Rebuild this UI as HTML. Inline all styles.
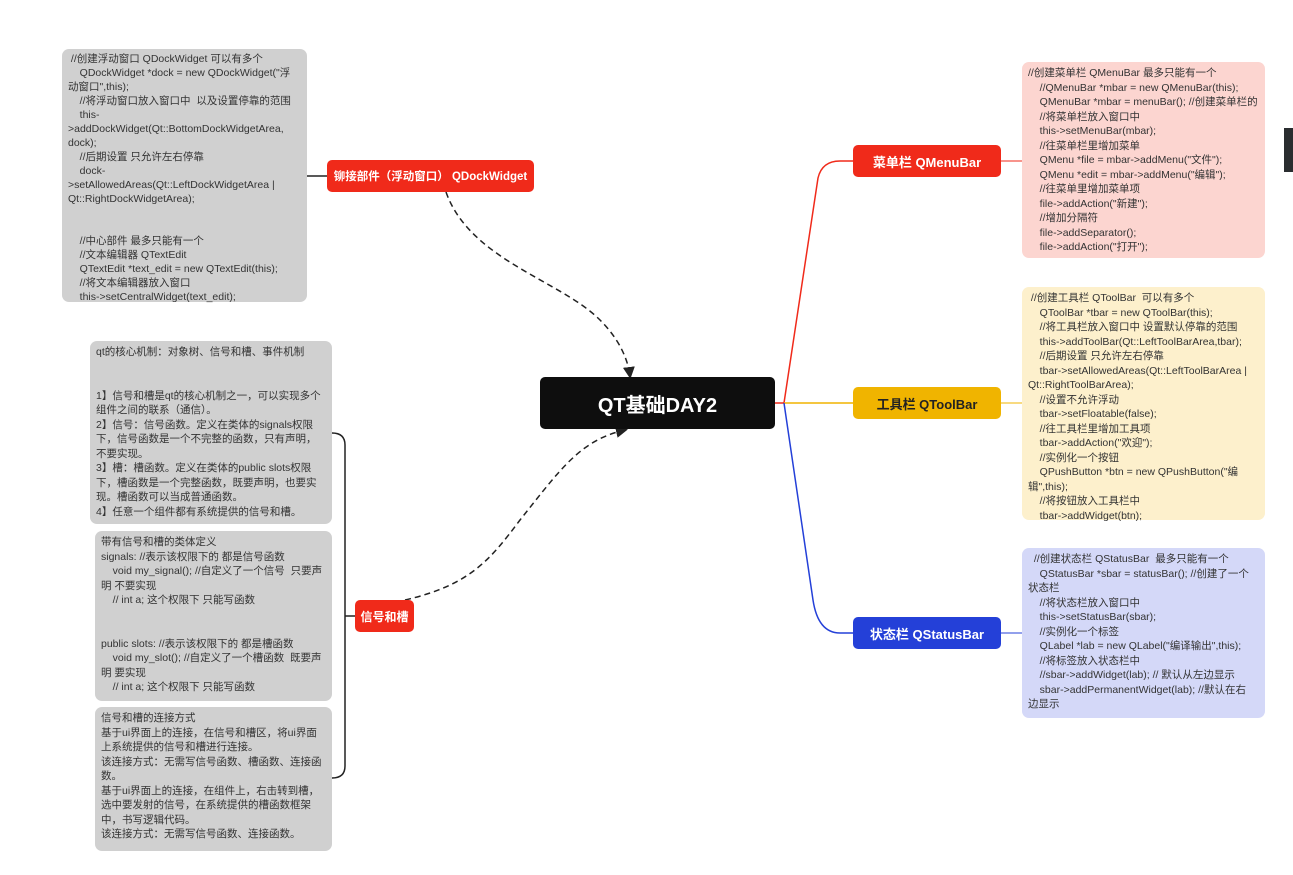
<!DOCTYPE html>
<html><head><meta charset="utf-8"><style>
body{margin:0;width:1293px;height:875px;background:#fff;position:relative;overflow:hidden;font-family:"Liberation Sans","Noto Sans CJK SC",sans-serif;}
.b{position:absolute;border-radius:7px;font-size:10.5px;line-height:14.5px;color:#333;white-space:pre;padding:4px 0 0 6px;box-sizing:border-box;}
.g{background:#d0d0d0;}
.n{position:absolute;border-radius:5px;color:#fff;font-weight:bold;display:flex;align-items:center;justify-content:center;font-size:13px;}
</style></head><body>
<svg width="1293" height="875" style="position:absolute;left:0;top:0">
<defs><marker id="a" markerWidth="8" markerHeight="8" refX="6" refY="4" orient="auto"><path d="M0,0 L8,4 L0,8 Z" fill="#222"/></marker></defs>
<path d="M446,192 C470,260 560,280 600,320 C620,340 628,360 630,376" fill="none" stroke="#222" stroke-width="1.5" stroke-dasharray="6,4" marker-end="url(#a)"/>
<path d="M405,600 C470,585 490,560 520,520 C560,470 580,440 625,430" fill="none" stroke="#222" stroke-width="1.5" stroke-dasharray="6,4" marker-end="url(#a)"/>
<path d="M307,176 L327,176" stroke="#222" stroke-width="1.5"/>
<path d="M332,433 Q345,433 345,445 L345,766 Q345,778 332,778 M345,616 L355,616" fill="none" stroke="#222" stroke-width="1.5"/>
<path d="M774,403 L784,403 L818,178 Q822,161 840,161 L853,161" fill="none" stroke="#f02a1a" stroke-width="1.5"/>
<path d="M784,403 L853,403" stroke="#f0b400" stroke-width="1.5"/>
<path d="M784,403 L813,600 Q818,633 840,633 L853,633" fill="none" stroke="#2440d8" stroke-width="1.5"/>
<path d="M1001,161 L1022,161" stroke="#f02a1a" stroke-width="1"/>
<path d="M1001,403 L1022,403" stroke="#f0b400" stroke-width="1"/>
<path d="M1001,633 L1022,633" stroke="#2440d8" stroke-width="1"/>
</svg>
<div class="b g" style="left:62px;top:49px;width:245px;height:253px;padding-top:3px;line-height:14px;"> //创建浮动窗口 QDockWidget 可以有多个
    QDockWidget *dock = new QDockWidget("浮
动窗口",this);
    //将浮动窗口放入窗口中  以及设置停靠的范围
    this-
>addDockWidget(Qt::BottomDockWidgetArea,
dock);
    //后期设置 只允许左右停靠
    dock-
>setAllowedAreas(Qt::LeftDockWidgetArea |
Qt::RightDockWidgetArea);


    //中心部件 最多只能有一个
    //文本编辑器 QTextEdit
    QTextEdit *text_edit = new QTextEdit(this);
    //将文本编辑器放入窗口
    this->setCentralWidget(text_edit);</div>
<div class="n" style="left:327px;top:160px;width:207px;height:32px;background:#f02a1a;font-size:11.5px;">铆接部件（浮动窗口） QDockWidget</div>
<div class="b g" style="left:90px;top:341px;width:242px;height:183px;">qt的核心机制：对象树、信号和槽、事件机制


1】信号和槽是qt的核心机制之一，可以实现多个
组件之间的联系（通信）。
2】信号：信号函数。定义在类体的signals权限
下，信号函数是一个不完整的函数，只有声明，
不要实现。
3】槽：槽函数。定义在类体的public slots权限
下，槽函数是一个完整函数，既要声明，也要实
现。槽函数可以当成普通函数。
4】任意一个组件都有系统提供的信号和槽。</div>
<div class="b g" style="left:95px;top:531px;width:237px;height:170px;">带有信号和槽的类体定义
signals: //表示该权限下的 都是信号函数
    void my_signal(); //自定义了一个信号  只要声
明 不要实现
    // int a; 这个权限下 只能写函数


public slots: //表示该权限下的 都是槽函数
    void my_slot(); //自定义了一个槽函数  既要声
明 要实现
    // int a; 这个权限下 只能写函数</div>
<div class="b g" style="left:95px;top:707px;width:237px;height:144px;">信号和槽的连接方式
基于ui界面上的连接，在信号和槽区，将ui界面
上系统提供的信号和槽进行连接。
该连接方式：无需写信号函数、槽函数、连接函
数。
基于ui界面上的连接，在组件上，右击转到槽，
选中要发射的信号，在系统提供的槽函数框架
中，书写逻辑代码。
该连接方式：无需写信号函数、连接函数。</div>
<div class="n" style="left:355px;top:600px;width:59px;height:32px;background:#f02a1a;font-size:12px;">信号和槽</div>
<div class="n" style="left:540px;top:377px;width:235px;height:52px;background:#0e0e0e;font-size:20px;">QT基础DAY2</div>
<div class="n" style="left:853px;top:145px;width:148px;height:32px;background:#f02a1a;">菜单栏 QMenuBar</div>
<div class="n" style="left:853px;top:387px;width:148px;height:32px;background:#f0b400;color:#222;">工具栏 QToolBar</div>
<div class="n" style="left:853px;top:617px;width:148px;height:32px;background:#2440d8;">状态栏 QStatusBar</div>
<div class="b" style="left:1022px;top:62px;width:243px;height:196px;background:#fcd5d0;">//创建菜单栏 QMenuBar 最多只能有一个
    //QMenuBar *mbar = new QMenuBar(this);
    QMenuBar *mbar = menuBar(); //创建菜单栏的
    //将菜单栏放入窗口中
    this->setMenuBar(mbar);
    //往菜单栏里增加菜单
    QMenu *file = mbar->addMenu("文件");
    QMenu *edit = mbar->addMenu("编辑");
    //往菜单里增加菜单项
    file->addAction("新建");
    //增加分隔符
    file->addSeparator();
    file->addAction("打开");</div>
<div class="b" style="left:1022px;top:287px;width:243px;height:233px;background:#fdf0cc;"> //创建工具栏 QToolBar  可以有多个
    QToolBar *tbar = new QToolBar(this);
    //将工具栏放入窗口中 设置默认停靠的范围
    this->addToolBar(Qt::LeftToolBarArea,tbar);
    //后期设置 只允许左右停靠
    tbar->setAllowedAreas(Qt::LeftToolBarArea |
Qt::RightToolBarArea);
    //设置不允许浮动
    tbar->setFloatable(false);
    //往工具栏里增加工具项
    tbar->addAction("欢迎");
    //实例化一个按钮
    QPushButton *btn = new QPushButton("编
辑",this);
    //将按钮放入工具栏中
    tbar->addWidget(btn);</div>
<div class="b" style="left:1022px;top:548px;width:243px;height:170px;background:#d4d8f8;">  //创建状态栏 QStatusBar  最多只能有一个
    QStatusBar *sbar = statusBar(); //创建了一个
状态栏
    //将状态栏放入窗口中
    this->setStatusBar(sbar);
    //实例化一个标签
    QLabel *lab = new QLabel("编译输出",this);
    //将标签放入状态栏中
    //sbar->addWidget(lab); // 默认从左边显示
    sbar->addPermanentWidget(lab); //默认在右
边显示</div>
<div style="position:absolute;left:1284px;top:128px;width:9px;height:44px;background:#2a2d30;"></div>
</body></html>
